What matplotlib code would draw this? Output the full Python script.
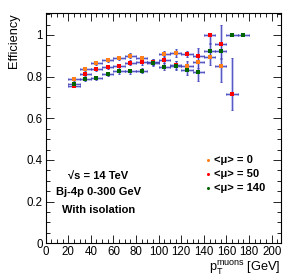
import matplotlib
matplotlib.use("Agg")
import matplotlib.pyplot as plt
import numpy as np
from matplotlib.ticker import MultipleLocator

plt.rcParams['font.family'] = ['Liberation Sans', 'DejaVu Sans']

# ---- data ----
x_orange = [25, 35, 45, 55, 65, 75, 85, 95, 105, 115, 125, 135, 145, 155]
eff_orange = [0.787, 0.837, 0.864, 0.878, 0.891, 0.900, 0.889, 0.872, 0.908, 0.913, 0.853, 0.870, 0.893, 0.852]
err_orange = [0.008, 0.008, 0.008, 0.009, 0.010, 0.011, 0.012, 0.014, 0.015, 0.018, 0.022, 0.028, 0.035, 0.08]

x_red = [25, 35, 45, 55, 65, 75, 85, 95, 105, 115, 125, 135, 145, 155, 165]
eff_red = [0.757, 0.811, 0.837, 0.848, 0.849, 0.867, 0.868, 0.870, 0.882, 0.857, 0.907, 0.899, 1.0, 0.955, 0.717]
err_red_lo = [0.009, 0.009, 0.009, 0.010, 0.011, 0.012, 0.013, 0.015, 0.017, 0.020, 0.015, 0.030, 0.045, 0.070, 0.077]
err_red_hi = [0.009, 0.009, 0.009, 0.010, 0.011, 0.012, 0.013, 0.015, 0.017, 0.020, 0.015, 0.037, 0.0, 0.093, 0.171]

x_green = [25, 35, 45, 55, 65, 75, 85, 95, 105, 115, 125, 135, 145, 155, 165, 175]
eff_green = [0.765, 0.789, 0.792, 0.812, 0.825, 0.826, 0.829, 0.867, 0.847, 0.853, 0.830, 0.824, 0.925, 0.925, 1.0, 1.0]
err_green = [0.009, 0.009, 0.009, 0.010, 0.011, 0.012, 0.013, 0.015, 0.017, 0.020, 0.020, 0.044, 0.035, 0.035, 0.0, 0.0]

bin_halfwidth = 5
labels = ["<\u03bc> = 0", "<\u03bc> = 50", "<\u03bc> = 140"]
colors = ["#ff7f1a", "#ff0000", "#006400"]

fig = plt.figure(figsize=(2.91, 2.79), dpi=100)
ax = fig.add_axes([0.1567, 0.128, 0.808, 0.8237])

def draw(xs, ys, yerr, color):
    xs = np.array(xs, float)
    ys = np.array(ys, float)
    xe = np.full_like(xs, bin_halfwidth)
    ax.errorbar(xs, ys, xerr=xe, yerr=yerr, fmt='none', ecolor='#c6caf3',
                elinewidth=2.2, capsize=0, zorder=1)
    ax.errorbar(xs, ys, xerr=xe, yerr=yerr, fmt='none', ecolor='#4444b8',
                elinewidth=0.6, capsize=1.0, capthick=0.6, zorder=2)
    ax.plot(xs, ys, 's', color=color, ms=2.5, mew=0, zorder=3)

draw(x_orange, eff_orange, err_orange, colors[0])
draw(x_red, eff_red, [err_red_lo, err_red_hi], colors[1])
draw(x_green, eff_green, err_green, colors[2])

ax.set_xlim(0, 208)
ax.set_ylim(0, 1.103)
ax.xaxis.set_minor_locator(MultipleLocator(5))
ax.yaxis.set_minor_locator(MultipleLocator(0.05))
ax.set_xticks([0, 20, 40, 60, 80, 100, 120, 140, 160, 180, 200])
ax.set_xticklabels(["0", "20", "40", "60", "80", "100", "120", "140", "160", "180", "200"])
ax.set_yticks([0, 0.2, 0.4, 0.6, 0.8, 1.0])
ax.set_yticklabels(["0", "0.2", "0.4", "0.6", "0.8", "1"])
ax.tick_params(which='both', direction='in', top=True, right=True, labelsize=8.3, width=0.6, pad=2)
ax.tick_params(which='major', length=6)
ax.tick_params(which='minor', length=3)
for s in ax.spines.values():
    s.set_linewidth(0.8)

ax.set_ylabel("Efficiency", fontsize=9.2, loc='top', labelpad=5)
ax.set_xlabel(r"$\mathregular{p_T^{muons}}$ [GeV]", fontsize=9.2, loc='right', labelpad=1)

# text block
ax.text(0.225, 0.295, "\u221as = 14 TeV", transform=ax.transAxes, ha='center', va='center',
        fontsize=8, fontweight='bold')
ax.text(0.225, 0.225, "Bj-4p 0-300 GeV", transform=ax.transAxes, ha='center', va='center',
        fontsize=8, fontweight='bold')
ax.text(0.225, 0.147, "With isolation", transform=ax.transAxes, ha='center', va='center',
        fontsize=8, fontweight='bold')

# legend
leg_y = [0.364, 0.303, 0.241]
for lab, c, yy in zip(labels, colors, leg_y):
    ax.plot([0.692], [yy], 'o', color=c, ms=2.2, mew=0, transform=ax.transAxes)
    ax.text(0.715, yy, lab, transform=ax.transAxes, ha='left', va='center',
            fontsize=8, fontweight='bold')

fig.savefig("out.png", dpi=100)
